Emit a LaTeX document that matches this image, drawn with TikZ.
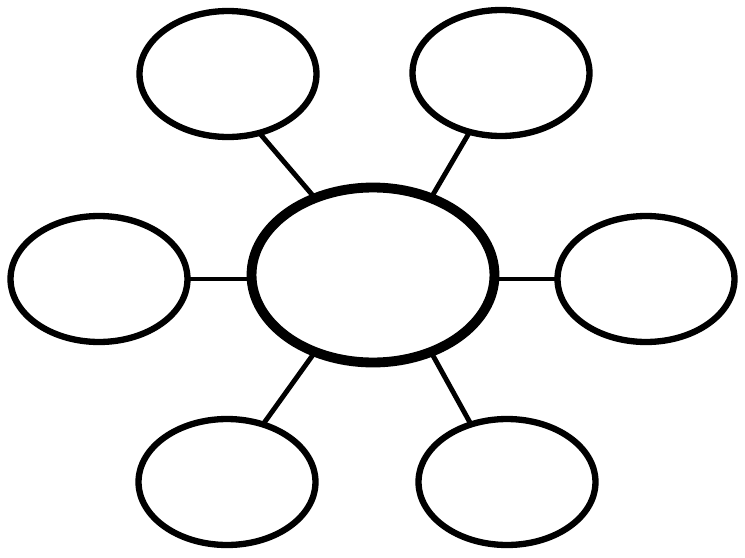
\documentclass[tikz,border=0pt]{standalone}
\usepackage{tikz}
\usetikzlibrary{shapes.geometric,calc}
\begin{document}
\begin{tikzpicture}[line join=round, x=0.02cm, y=-0.02cm,
  hub/.style={ellipse, draw, line width=5.6pt, minimum width=4.86cm, minimum height=3.5cm, inner sep=0pt, outer sep=0pt},
  leaf/.style={ellipse, draw, line width=3.6pt, minimum width=3.54cm, minimum height=2.52cm, inner sep=0pt, outer sep=0pt},
  spoke/.style={line width=2.8pt}]
\useasboundingbox (0,0) rectangle (745,558);
\node[hub]  (H)  at (373,275) {};
\node[leaf] (TL) at (228,74)  {};
\node[leaf] (TR) at (501,73)  {};
\node[leaf] (L)  at (99,279)  {};
\node[leaf] (R)  at (646,279) {};
\node[leaf] (BL) at (227,482) {};
\node[leaf] (BR) at (507,482) {};
\draw[spoke] (H.127) -- (TL.298);
\draw[spoke] (H.53)  -- (TR.242);
\draw[spoke] (L.0) -- (L.0 -| H.west);
\draw[spoke] (R.180) -- (R.180 -| H.east);
\draw[spoke] (H.233) -- (BL.58);
\draw[spoke] (H.307) -- (BR.122);
\end{tikzpicture}
\end{document}
